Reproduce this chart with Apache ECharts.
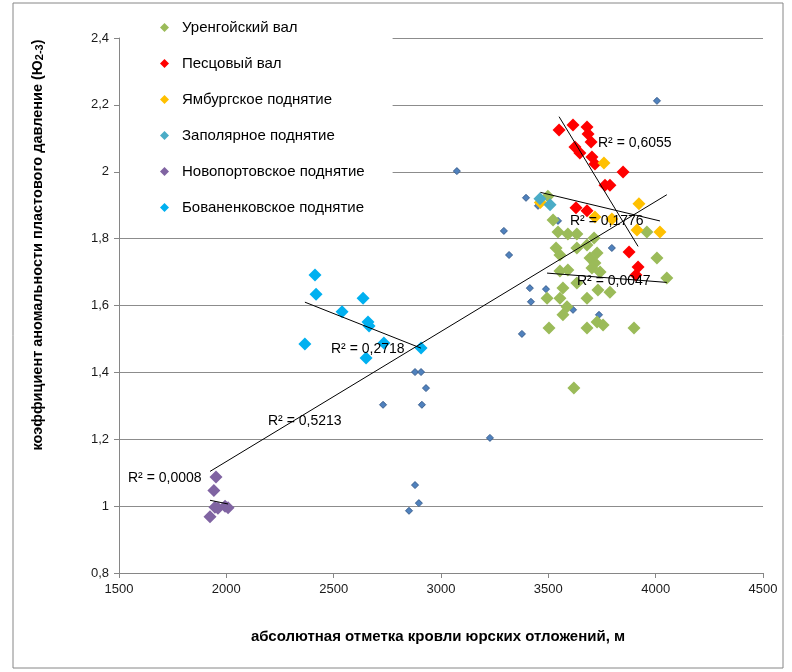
<!DOCTYPE html>
<html>
<head>
<meta charset="utf-8">
<script src="https://cdn.jsdelivr.net/npm/echarts@6/dist/echarts.min.js"></script>
<style>
  html, body { margin: 0; padding: 0; background: #ffffff; }
  #chart { width: 792px; height: 672px; }
</style>
</head>
<body>
<div id="chart"></div>
<script>
// ---- data: depth of the Jurassic top (m) vs. pressure anomaly coefficient ----
const groupNames = [
  'Уренгойский вал',
  'Песцовый вал',
  'Ямбургское поднятие',
  'Заполярное поднятие',
  'Новопортовское поднятие',
  'Бованенковское поднятие'
];

const urengoyX = [3522, 3545, 3591, 3633, 3713, 3680, 3633, 3536, 3554, 3727, 3694, 3717, 3703, 3741, 3554, 3591, 3633, 3568,
                  3731, 3787, 3494, 3554, 3680, 3587, 3568, 3727, 3755, 3503, 3680, 3899, 4006, 3959, 4052, 3498, 3619];
const urengoyY = [1.856, 1.820, 1.814, 1.814, 1.802, 1.781, 1.772, 1.772, 1.751, 1.757, 1.742, 1.727, 1.712, 1.700, 1.703, 1.706, 1.667, 1.652,
                  1.646, 1.640, 1.622, 1.622, 1.622, 1.596, 1.572, 1.551, 1.542, 1.533, 1.533, 1.533, 1.742, 1.820, 1.682, 1.927, 1.353];

const pestsovX = [3550, 3615, 3680, 3685, 3699, 3624, 3647, 3703, 3717, 3848, 3764, 3787, 3629, 3680, 3876, 3918, 3908];
const pestsovY = [2.125, 2.140, 2.134, 2.113, 2.089, 2.074, 2.056, 2.044, 2.023, 1.999, 1.960, 1.960, 1.892, 1.883, 1.760, 1.715, 1.691];

const yamburgX = [3463, 3759, 3922, 3717, 3796, 3913, 4020];
const yamburgY = [1.908, 2.026, 1.904, 1.865, 1.859, 1.826, 1.820];

const zapolyarX = [3461, 3508];
const zapolyarY = [1.919, 1.901];

const novoportX = [1952, 1942, 1947, 1924, 1961, 1994, 2008];
const novoportY = [1.087, 1.047, 0.997, 0.968, 0.994, 1.000, 0.995];

const bovanenkX = [2413, 2418, 2637, 2539, 2660, 2665, 2366, 2734, 2651, 2907];
const bovanenkY = [1.691, 1.634, 1.622, 1.581, 1.551, 1.539, 1.485, 1.488, 1.443, 1.473];

// wells not assigned to a structure (shown only in the common set)
const otherX = [4006, 3074, 3396, 3452, 3293, 3317, 3414, 3489, 3419, 3377, 3796, 3615, 3736, 3545,
                2879, 2907, 2930, 2730, 2911, 3228, 2879, 2897, 2851];
const otherY = [2.212, 2.002, 1.922, 1.898, 1.823, 1.751, 1.652, 1.649, 1.611, 1.515, 1.772, 1.587, 1.572, 1.853,
                1.401, 1.401, 1.353, 1.303, 1.303, 1.204, 1.063, 1.009, 0.986];

// R² captions of the linear trend lines
const r2Urengoy = 'R² = 0,0047';
const r2Pestsov = 'R² = 0,6055';
const r2Yamburg = 'R² = 0,1776';
const r2Novoport = 'R² = 0,0008';
const r2Bovanenk = 'R² = 0,2718';
const r2All = 'R² = 0,5213';

const xTicks = [1500, 2000, 2500, 3000, 3500, 4000, 4500];
const yTicks = [0.8, 1.0, 1.2, 1.4, 1.6, 1.8, 2.0, 2.2, 2.4];

// ---- helpers ----
const zip = (xs, ys) => xs.map((x, i) => [x, ys[i]]);

// least-squares line drawn over the x range of the group
function trend(xs, ys) {
  const n = xs.length;
  const mx = xs.reduce((a, b) => a + b, 0) / n;
  const my = ys.reduce((a, b) => a + b, 0) / n;
  let sxy = 0, sxx = 0;
  for (let i = 0; i < n; i++) { sxy += (xs[i] - mx) * (ys[i] - my); sxx += (xs[i] - mx) ** 2; }
  const k = sxy / sxx, b = my - k * mx;
  const x0 = Math.min(...xs), x1 = Math.max(...xs);
  return [[x0, k * x0 + b], [x1, k * x1 + b]];
}

const allX = [].concat(urengoyX, pestsovX, yamburgX, zapolyarX, novoportX, bovanenkX, otherX);
const allY = [].concat(urengoyY, pestsovY, yamburgY, zapolyarY, novoportY, bovanenkY, otherY);

const groupColors = ['#9BBB59', '#FF0000', '#FFC000', '#4BACC6', '#8064A2', '#00B0F0'];
const groupData = [
  zip(urengoyX, urengoyY), zip(pestsovX, pestsovY), zip(yamburgX, yamburgY),
  zip(zapolyarX, zapolyarY), zip(novoportX, novoportY), zip(bovanenkX, bovanenkY)
];

const FONT = 'Liberation Sans, Arial, sans-serif';

const trendLine = (data) => ({
  type: 'line', data, symbol: 'none', silent: true, z: 5,
  lineStyle: { color: '#000000', width: 1 }, animation: false
});

const series = [
  {
    name: 'все скважины', type: 'scatter', data: zip(allX, allY),
    symbol: 'diamond', symbolSize: 7, z: 2, silent: true,
    itemStyle: { color: '#4F81BD', borderColor: '#3A5F8F', borderWidth: 1, opacity: 1 }
  }
];
groupNames.forEach((name, i) => {
  series.push({
    name, type: 'scatter', data: groupData[i],
    symbol: 'diamond', symbolSize: 13, z: 3, silent: true,
    itemStyle: { color: groupColors[i], opacity: 1 }
  });
});
series.push(
  trendLine(trend(urengoyX, urengoyY)),
  trendLine(trend(pestsovX, pestsovY)),
  trendLine(trend(yamburgX, yamburgY)),
  trendLine(trend(novoportX, novoportY)),
  trendLine(trend(bovanenkX, bovanenkY)),
  trendLine(trend(allX, allY))
);

const r2Text = (text, x, y) => ({
  type: 'text', x, y, z: 10,
  style: { text, font: '14px ' + FONT, fill: '#000000', textVerticalAlign: 'middle' }
});

const chart = echarts.init(document.getElementById('chart'), null, { renderer: 'canvas' });
chart.setOption({
  animation: false,
  backgroundColor: '#ffffff',
  grid: { left: 119, right: 29, top: 38, bottom: 99 },
  xAxis: {
    type: 'value', min: xTicks[0], max: xTicks[xTicks.length - 1], interval: 500,
    axisLine: { show: true, lineStyle: { color: '#868686' } },
    axisTick: { show: true, length: 5, lineStyle: { color: '#868686' } },
    axisLabel: { color: '#1a1a1a', fontFamily: FONT, fontSize: 13, margin: 10, formatter: v => String(v) },
    splitLine: { show: false }
  },
  yAxis: {
    type: 'value', min: yTicks[0], max: yTicks[yTicks.length - 1], interval: 0.2,
    axisLine: { show: true, lineStyle: { color: '#868686' } },
    axisTick: { show: true, length: 5, lineStyle: { color: '#868686' } },
    axisLabel: {
      color: '#1a1a1a', fontFamily: FONT, fontSize: 13, margin: 10,
      formatter: v => String(+v.toFixed(1)).replace('.', ',')
    },
    splitLine: { show: true, lineStyle: { color: '#8c8c8c', width: 1 } }
  },
  legend: {
    data: groupNames, orient: 'vertical', left: 120, top: 12,
    padding: [8, 28, 9, 40], itemGap: 21, itemWidth: 9, itemHeight: 9,
    backgroundColor: '#ffffff', z: 4, selectedMode: false,
    textStyle: { fontFamily: FONT, fontSize: 15, color: '#000000', lineHeight: 14, padding: [0, 0, 0, 8] }
  },
  series,
  graphic: [
    { type: 'rect', shape: { x: 13, y: 3, width: 770, height: 665 }, style: { fill: 'none', stroke: '#868686', lineWidth: 1 }, silent: true },
    {
      type: 'text', x: 38, y: 245, rotation: Math.PI / 2,
      style: {
        text: 'коэффициент аномальности пластового давление (Ю{s|2-3})',
        font: 'bold 14.5px ' + FONT, fill: '#000000', textAlign: 'center', textVerticalAlign: 'middle',
        rich: { s: { fontSize: 11, fontWeight: 'bold', fontFamily: FONT, padding: [4, 0, 0, 0] } }
      }
    },
    {
      type: 'text', x: 438, y: 637,
      style: {
        text: 'абсолютная отметка кровли юрских отложений, м',
        font: 'bold 15px ' + FONT, fill: '#000000', textAlign: 'center', textVerticalAlign: 'middle'
      }
    },
    r2Text(r2Pestsov, 598, 143),
    r2Text(r2Yamburg, 570, 221),
    r2Text(r2Urengoy, 577, 281),
    r2Text(r2Bovanenk, 331, 349),
    r2Text(r2All, 268, 421),
    r2Text(r2Novoport, 128, 478)
  ]
});
</script>
</body>
</html>
